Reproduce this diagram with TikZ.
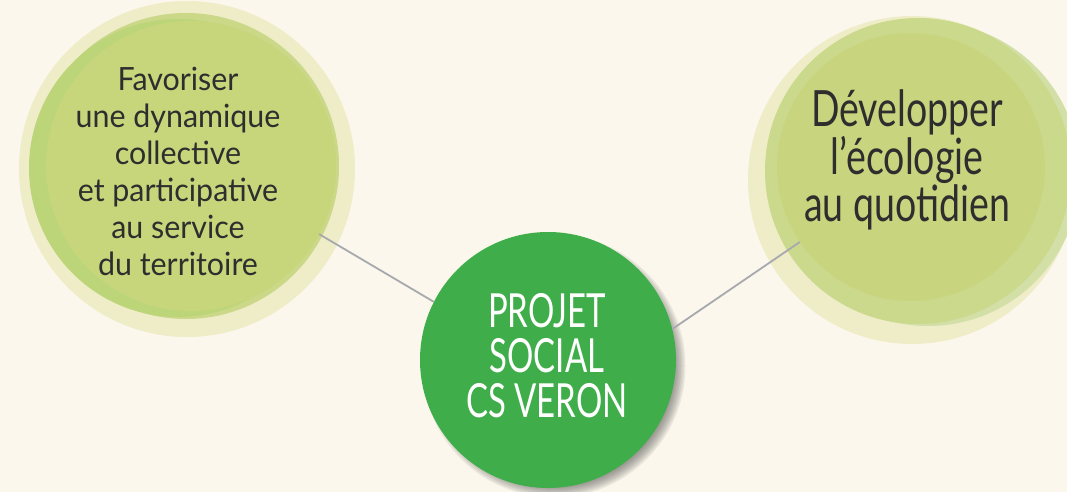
\documentclass[tikz,border=0pt]{standalone}
\usepackage{fontspec}
\setmainfont{Lato}
\newfontfamily\handL[FakeStretch=0.95]{Lato}
\newfontfamily\handR[FakeStretch=0.75]{Lato}
\newfontfamily\handC[FakeStretch=0.7]{Lato}
\definecolor{bg}{HTML}{FBF7EC}
\definecolor{halo}{HTML}{EFECC8}
\definecolor{ring}{HTML}{CAD888}
\definecolor{band}{HTML}{BCD579}
\definecolor{mainfill}{HTML}{C7D57B}
\definecolor{rband}{HTML}{CBD98C}
\definecolor{rinner}{HTML}{C8D57E}
\definecolor{rblue}{HTML}{D2DFA6}
\definecolor{cgreen}{HTML}{3FAE4A}
\definecolor{conncol}{HTML}{A8A9AE}
\definecolor{ink}{HTML}{2E2E2E}
\tikzset{
  disc/.style={circle, inner sep=0pt, draw=none},
  conn/.style={draw=conncol, line width=1.8pt},
  txt/.style={align=center, text=ink, inner sep=0pt},
}
\begin{document}
\begin{tikzpicture}[x=1pt,y=-1pt]
\fill[bg] (0,0) rectangle (1067,492);
\useasboundingbox (0,0) rectangle (1067,492);
% left circle
\node[disc, minimum size=336pt, fill=halo] (Lhalo) at (187,169) {};
\node[disc, minimum size=306pt, fill=ring] (Lring) at (186,166) {};
\node[disc, minimum size=298pt, fill=band] (Lband) at (178,168) {};
\node[disc, minimum size=290pt, fill=mainfill] (L) at (191,166) {};
% right circle
\node[disc, minimum size=328pt, fill=halo] (Rhalo) at (912,180) {};
\node[disc, minimum size=304pt, fill=rblue] (Rblue) at (928,174) {};
\node[disc, minimum size=306pt, fill=rband] (Rband) at (918,171) {};
\node[disc, minimum size=268pt, fill=rinner] (R) at (911,167) {};
% center circle shadow
\foreach \i in {0,...,7}
  \fill[black!70, opacity=0.09] (554,366) circle[radius=121+1.5*\i];
\node[disc, minimum size=256pt, fill=cgreen] (C) at (548,360) {};
% connectors
\draw[conn] (L.-28) -- (C.153);
\draw[conn] (C.14) -- (R.214);
% texts
\node[txt, font=\handL\fontsize{32}{37}\selectfont] (Ltxt) at (178,171)
  {Favoriser\\une dynamique\\collective\\et participative\\au service\\du territoire};
\node[txt, font=\handR\fontsize{50}{47.5}\selectfont] (Rtxt) at (907,160)
  {Développer\\l’écologie\\au quotidien};
\node[txt, text=white, font=\handC\fontsize{47}{45}\selectfont] (Ctxt) at (547,356)
  {PROJET\\SOCIAL\\CS VERON};
\end{tikzpicture}
\end{document}
